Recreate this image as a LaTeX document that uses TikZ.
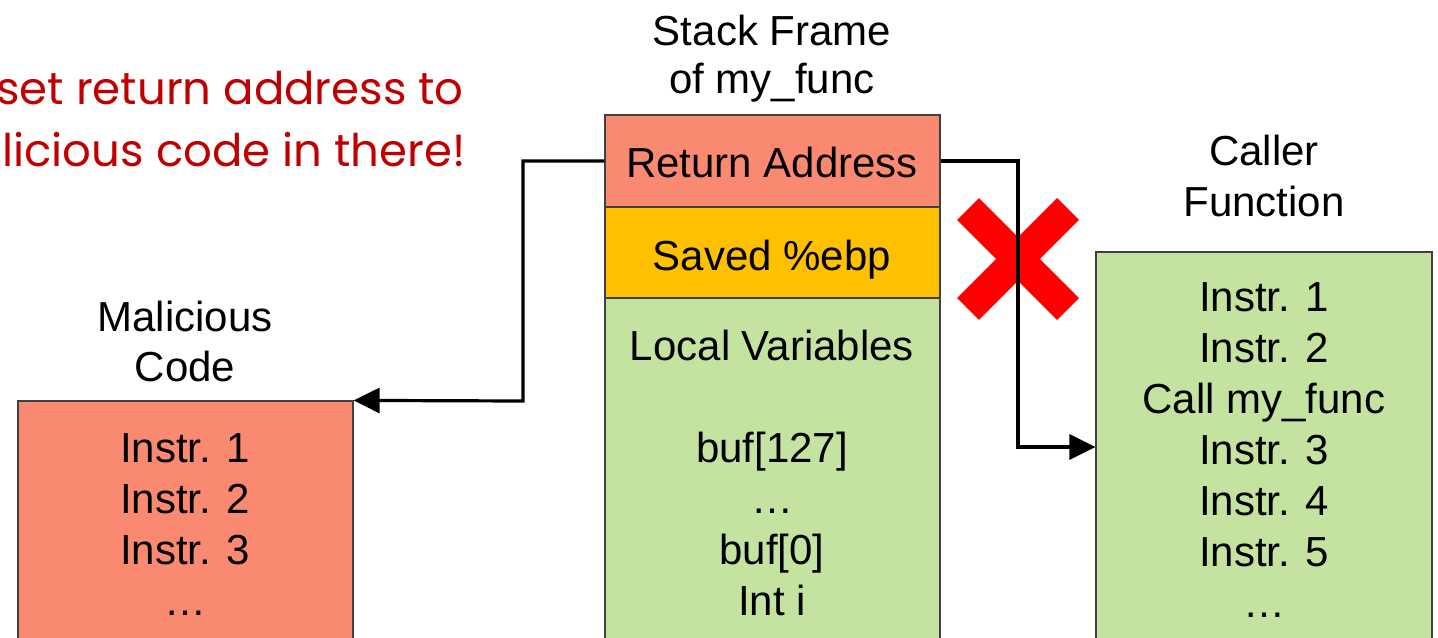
\documentclass[tikz,border=0pt]{standalone}
\usepackage{fontspec}
\setmainfont{Liberation Sans}
\newfontfamily\notefont{Poppins}
\usetikzlibrary{arrows.meta}
\definecolor{salmon}{RGB}{250,137,114}
\definecolor{amber}{RGB}{255,192,0}
\definecolor{leaf}{RGB}{196,226,160}
\definecolor{alarm}{RGB}{192,0,0}
\definecolor{xred}{RGB}{255,0,0}
\begin{document}
\begin{tikzpicture}[x=0.5pt,y=-0.5pt,
  box/.style={draw=black!75, line width=0.6pt, inner sep=0pt},
  lbl/.style={anchor=base, inner sep=0pt, font=\fontsize{21}{25.5}\selectfont},
  note/.style={anchor=base west, inner sep=0pt, text=alarm,
               font=\notefont\fontsize{22.5}{27}\selectfont},
  conn/.style={draw=black, line width=1.6pt,
               -{Triangle[length=13pt,width=12.5pt]}},
  cross/.style={draw=xred, line width=15.5pt, line cap=butt}]
\useasboundingbox (0,0) rectangle (1438,637);
\clip (0,0) rectangle (1438,637);

% warning text
\node[note] (n1) at (-4,104) {set return address to};
\node[note] (n2) at (2,166) {licious code in there!};

% stack frame of my_func
\node[lbl] (sf1) at (772,45) {Stack Frame};
\node[lbl] (sf2) at (772,93) {of my\_func};
\node[box, fill=salmon, minimum width=167.5pt, minimum height=46pt]
  (ret) at (772.5,161) {};
\node[box, fill=amber, minimum width=167.5pt, minimum height=45.5pt]
  (ebp) at (772.5,252.5) {};
\node[box, fill=leaf, minimum width=167.5pt, minimum height=181pt]
  (loc) at (772.5,479) {};
\node[lbl] (rt) at (772,177) {Return Address};
\node[lbl] (eb) at (772,270) {Saved \%ebp};
\node[lbl] (lv0) at (772,360) {Local Variables};
\foreach \t [count=\i] in {buf[127],…,buf[0],Int i}
  \node[lbl] (lv\i) at (772,411+51*\i) {\t};

% malicious code
\node[lbl] (mc1) at (185,331) {Malicious};
\node[lbl] (mc2) at (185,381) {Code};
\node[box, fill=salmon, minimum width=167.5pt, minimum height=129.5pt]
  (mal) at (185.5,530.5) {};
\foreach \t [count=\i] in {Instr. 1,Instr. 2,Instr. 3,…}
  \node[lbl] (mi\i) at (185,411+51*\i) {\t};

% caller function
\node[lbl] (cf1) at (1264,165) {Caller};
\node[lbl] (cf2) at (1264,216) {Function};
\node[box, fill=leaf, minimum width=168pt, minimum height=204pt]
  (caller) at (1264,456) {};
\foreach \t [count=\i] in {Instr. 1,Instr. 2,Call my\_func,Instr. 3,Instr. 4,Instr. 5,…}
  \node[lbl] (ci\i) at (1264,260+51*\i) {\t};

% the normal return path is crossed out
\draw[cross] (968,209) -- (1068,309);
\draw[cross] (968,309) -- (1068,209);

% return paths
\coordinate (lb) at (523,401);
\coordinate (rb) at (1018,447);
\draw[conn] (ret.west) -| (lb) -- (mal.north east);
\draw[conn] (ret.east) -| (rb) -- (rb -| caller.west);
\end{tikzpicture}
\end{document}
